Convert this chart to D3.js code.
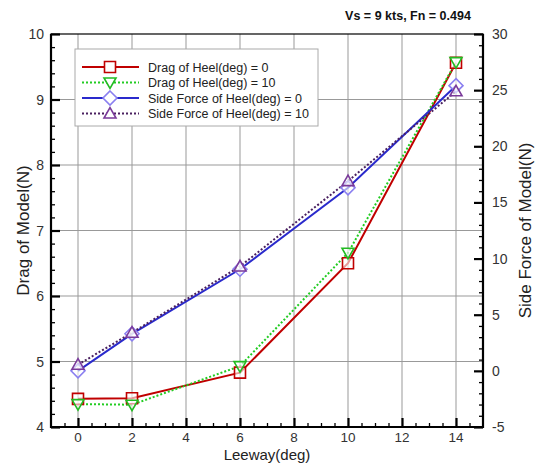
<!DOCTYPE html>
<html><head><meta charset="utf-8">
<script src="https://cdn.jsdelivr.net/npm/d3@7"></script>
<style>body{margin:0;background:#fff;} svg{display:block;font-family:Arial,"Liberation Sans",sans-serif;}</style>
</head><body>
<svg id="c" width="535" height="464"></svg>
<script>
const leeway = [0, 2, 6, 10, 14];
const dragHeel0 = [4.43, 4.44, 4.83, 6.50, 9.56];
const dragHeel10 = [4.35, 4.34, 4.93, 6.66, 9.57];
const sideHeel0 = [0.0, 3.3, 9.05, 16.3, 25.4];
const sideHeel10 = [0.55, 3.4, 9.3, 16.9, 24.9];
const xTicks = [0, 2, 4, 6, 8, 10, 12, 14];
const yLeftTicks = [4, 5, 6, 7, 8, 9, 10];
const yRightTicks = [-5, 0, 5, 10, 15, 20, 25, 30];
const title = "Vs = 9 kts, Fn = 0.494";
const legendLabels = ["Drag of Heel(deg) = 0", "Drag of Heel(deg) = 10", "Side Force of Heel(deg) = 0", "Side Force of Heel(deg) = 10"];

const svg = d3.select("#c");
const L = 51, R = 483, T = 34, B = 427;
const x = d3.scaleLinear().domain([-1, 15]).range([L, R]);
const yL = d3.scaleLinear().domain([4, 10]).range([B, T]);
const yR = d3.scaleLinear().domain([-5, 30]).range([B, T]);

// grid
const g = svg.append("g");
g.selectAll(".vg").data(xTicks).enter().append("line")
  .attr("x1", d => x(d)).attr("x2", d => x(d)).attr("y1", T).attr("y2", B)
  .attr("stroke", "#999").attr("stroke-width", 1);
g.selectAll(".hg").data(yLeftTicks.slice(1, -1)).enter().append("line")
  .attr("x1", L).attr("x2", R).attr("y1", d => yL(d)).attr("y2", d => yL(d))
  .attr("stroke", "#999").attr("stroke-width", 1);

// axes (ticks inward)
const tickCol = "#000";
const axB = svg.append("g").attr("transform", `translate(0,${B})`)
  .call(d3.axisTop(x).tickValues(xTicks).tickSize(9).tickFormat(""));
const axBm = svg.append("g").attr("transform", `translate(0,${B})`)
  .call(d3.axisTop(x).tickValues(d3.range(-0.5, 15, 0.5).filter(v => v % 2 !== 0)).tickSize(4).tickFormat(""));
const axL = svg.append("g").attr("transform", `translate(${L},0)`)
  .call(d3.axisRight(yL).tickValues(yLeftTicks).tickSize(9).tickFormat(""));
const axLm = svg.append("g").attr("transform", `translate(${L},0)`)
  .call(d3.axisRight(yL).tickValues(d3.range(4.2, 10, 0.2).filter(v => Math.abs(v - Math.round(v)) > 0.05)).tickSize(4).tickFormat(""));
const axR = svg.append("g").attr("transform", `translate(${R},0)`)
  .call(d3.axisLeft(yR).tickValues(yRightTicks).tickSize(9).tickFormat(""));
const axRm = svg.append("g").attr("transform", `translate(${R},0)`)
  .call(d3.axisLeft(yR).tickValues(d3.range(-4, 30, 1).filter(v => v % 5 !== 0)).tickSize(4).tickFormat(""));
[axB, axBm, axL, axLm, axR, axRm].forEach(a => {
  a.select(".domain").remove();
  a.selectAll(".tick line").attr("stroke", tickCol).attr("stroke-width", 1.3);
});
[axB, axL, axR].forEach(a => a.selectAll(".tick line").attr("stroke-width", 2.2));

// frame
svg.append("rect").attr("x", L).attr("y", T).attr("width", R - L).attr("height", B - T)
  .attr("fill", "none").attr("stroke", "#000").attr("stroke-width", 1.2);
svg.append("path").attr("d", `M${L},${T}V${B}H${R}V${T}`).attr("fill", "none").attr("stroke", "#000").attr("stroke-width", 2.2);

// tick labels
const lab = "#333";
svg.selectAll(".xl").data(xTicks).enter().append("text")
  .attr("x", d => x(d)).attr("y", 442).attr("text-anchor", "middle")
  .attr("font-size", 13.5).attr("fill", lab).text(d => d);
svg.selectAll(".yl").data(yLeftTicks).enter().append("text")
  .attr("x", L - 7).attr("y", d => yL(d) + 5).attr("text-anchor", "end")
  .attr("font-size", 14).attr("fill", lab).text(d => d);
svg.selectAll(".yr").data(yRightTicks).enter().append("text")
  .attr("x", R + 9).attr("y", d => yR(d) + 5).attr("text-anchor", "start")
  .attr("font-size", 14).attr("fill", lab).text(d => d);

// axis titles
svg.append("text").attr("x", (L + R) / 2).attr("y", 460).attr("text-anchor", "middle")
  .attr("font-size", 15).attr("fill", "#222").text("Leeway(deg)");
svg.append("text").attr("transform", `translate(29,${(T + B) / 2}) rotate(-90)`).attr("text-anchor", "middle")
  .attr("font-size", 17).attr("fill", "#222").text("Drag of Model(N)");
svg.append("text").attr("transform", `translate(531,${(T + B) / 2}) rotate(-90)`).attr("text-anchor", "middle")
  .attr("font-size", 17).attr("fill", "#222").text("Side Force of Model(N)");
svg.append("text").attr("x", 408).attr("y", 20).attr("text-anchor", "middle")
  .attr("font-size", 12.5).attr("font-weight", "bold").attr("fill", "#111").text(title);

// series
const series = [
  { vals: dragHeel0, y: yL, line: "#c00000", mark: "#c00000", dash: null, sym: "square" },
  { vals: dragHeel10, y: yL, line: "#22cc22", mark: "#22bb22", dash: "2,2", sym: "tdown" },
  { vals: sideHeel0, y: yR, line: "#2a2acc", mark: "#8a7ff0", dash: null, sym: "diamond" },
  { vals: sideHeel10, y: yR, line: "#4a2060", mark: "#7a3a9a", dash: "2,2", sym: "tup" }
];
function symPath(sym, cx, cy) {
  const s = 5.5;
  if (sym === "square") return `M${cx - s},${cy - s}h${2 * s}v${2 * s}h${-2 * s}Z`;
  if (sym === "diamond") return `M${cx},${cy - 7}L${cx + 7},${cy}L${cx},${cy + 7}L${cx - 7},${cy}Z`;
  if (sym === "tdown") return `M${cx - 6},${cy - 4.5}L${cx + 6},${cy - 4.5}L${cx},${cy + 6}Z`;
  return `M${cx - 6},${cy + 4.5}L${cx + 6},${cy + 4.5}L${cx},${cy - 6}Z`;
}
series.forEach(s => {
  const line = d3.line().x((d, i) => x(leeway[i])).y(d => s.y(d));
  svg.append("path").datum(s.vals).attr("d", line).attr("fill", "none")
    .attr("stroke", s.line).attr("stroke-width", 2).attr("stroke-dasharray", s.dash);
});
series.forEach(s => {
  svg.append("g").selectAll("path").data(s.vals).enter().append("path")
    .attr("d", (d, i) => symPath(s.sym, x(leeway[i]), s.y(d)))
    .attr("fill", "#fff").attr("fill-opacity", 0.6).attr("stroke", s.mark).attr("stroke-width", 1.6);
});

// legend
const lg = svg.append("g");
lg.append("rect").attr("x", 75).attr("y", 49).attr("width", 243).attr("height", 77)
  .attr("fill", "#fff").attr("stroke", "#aaa").attr("stroke-width", 1);
series.forEach((s, i) => {
  const yy = 67 + i * 15.5;
  lg.append("line").attr("x1", 82).attr("x2", 139).attr("y1", yy).attr("y2", yy)
    .attr("stroke", s.line).attr("stroke-width", 2).attr("stroke-dasharray", s.dash);
  lg.append("path").attr("d", symPath(s.sym, 110, yy)).attr("fill", "#fff")
    .attr("stroke", s.mark).attr("stroke-width", 1.6);
  lg.append("text").attr("x", 148).attr("y", yy + 4.5).attr("font-size", 12.5)
    .attr("fill", "#222").text(legendLabels[i]);
});
</script>
</body></html>
